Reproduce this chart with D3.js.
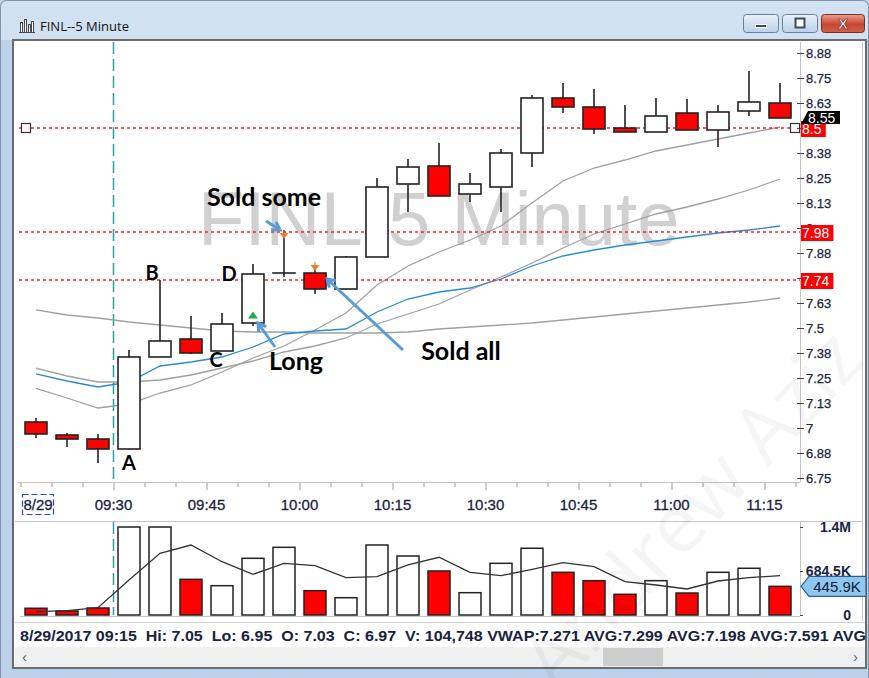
<!DOCTYPE html>
<html>
<head>
<meta charset="utf-8">
<script src="https://cdn.jsdelivr.net/npm/d3@7"></script>
<style>
  html, body { margin: 0; padding: 0; background: #ffffff; }
  svg { display: block; }
</style>
</head>
<body>
<svg id="chart" width="869" height="678"></svg>
<script>
// ---- FINL 5-minute bars, 8/29/2017 ----
const symbol = "FINL";
const interval = "5 Minute";
const sessionDate = "8/29/2017";
const dateLabel = "8/29";

const times = ["09:15","09:20","09:25","09:30","09:35","09:40","09:45","09:50","09:55","10:00",
               "10:05","10:10","10:15","10:20","10:25","10:30","10:35","10:40","10:45","10:50",
               "10:55","11:00","11:05","11:10","11:15"];

const open  = [7.03, 6.965, 6.945, 6.895, 7.355, 7.445, 7.385, 7.525, 7.775, 7.775,
               7.695, 7.855, 8.22, 8.31, 8.17, 8.205, 8.375, 8.65, 8.605, 8.50,
               8.48, 8.575, 8.49, 8.585, 8.625];
const high  = [7.05, 6.975, 6.97, 7.39, 7.74, 7.56, 7.575, 7.82, 7.99, 7.81,
               7.86, 8.25, 8.345, 8.425, 8.275, 8.395, 8.665, 8.725, 8.695, 8.615,
               8.65, 8.645, 8.615, 8.785, 8.725];
const low   = [6.95, 6.905, 6.825, 6.89, 7.355, 7.37, 7.385, 7.51, 7.755, 7.67,
               7.69, 7.855, 8.08, 8.16, 8.13, 8.08, 8.305, 8.575, 8.47, 8.48,
               8.48, 8.49, 8.405, 8.56, 8.55];
const close = [6.97, 6.945, 6.895, 7.355, 7.435, 7.375, 7.52, 7.77, 7.775, 7.695,
               7.855, 8.205, 8.305, 8.16, 8.22, 8.375, 8.65, 8.605, 8.495, 8.48,
               8.56, 8.49, 8.58, 8.63, 8.55];

const volume    = [104748, 62000, 109000, 1369000, 1369000, 555000, 456000, 882000, 1053000, 378000,
                   269000, 1089000, 918000, 685000, 347000, 804000, 1038000, 664000, 534000, 322000,
                   534000, 342000, 664000, 727000, 445900];
const volumeAvg = [51000, 67000, 114000, 545000, 960000, 1089000, 829000, 633000, 804000, 767000,
                   580000, 596000, 778000, 898000, 664000, 612000, 711000, 814000, 752000, 518000,
                   467000, 405000, 529000, 580000, 612000];

// indicator overlays
const vwap    = [7.271, 7.235, 7.205, 7.23, 7.31, 7.33, 7.355, 7.405, 7.47, 7.485,
                 7.495, 7.58, 7.645, 7.68, 7.70, 7.745, 7.81, 7.86, 7.89, 7.915,
                 7.935, 7.955, 7.975, 7.99, 8.01];
const avgFast = [7.198, 7.15, 7.10, 7.12, 7.175, 7.215, 7.28, 7.35, 7.41, 7.49,
                 7.575, 7.715, 7.81, 7.88, 7.94, 8.01, 8.125, 8.235, 8.30, 8.34,
                 8.385, 8.415, 8.445, 8.475, 8.505];
const avgMid  = [7.299, 7.26, 7.23, 7.23, 7.24, 7.265, 7.30, 7.335, 7.38, 7.41,
                 7.45, 7.52, 7.57, 7.62, 7.69, 7.755, 7.825, 7.90, 7.97, 8.02,
                 8.07, 8.105, 8.145, 8.19, 8.245];
const avgSlow = [7.591, 7.565, 7.55, 7.53, 7.515, 7.50, 7.485, 7.48, 7.48, 7.475,
                 7.475, 7.475, 7.48, 7.495, 7.505, 7.515, 7.525, 7.54, 7.555, 7.57,
                 7.585, 7.60, 7.615, 7.63, 7.65];

// axes
const priceTicks = [6.75, 6.875, 7, 7.125, 7.25, 7.375, 7.5, 7.625, 7.75, 7.875, 8, 8.125, 8.25, 8.375, 8.5, 8.625, 8.75, 8.875];
const priceTickLabels = ["6.75","6.88","7","7.13","7.25","7.38","7.5","7.63","7.75","7.88","8","8.13","8.25","8.38","8.5","8.63","8.75","8.88"];
const timeTicks = ["09:30","09:45","10:00","10:15","10:30","10:45","11:00","11:15"];
const volumeTicks = [0, 684500, 1369000];
const volumeTickLabels = ["0", "684.5K", "1.4M"];

// horizontal price levels and last values
const levels = [8.5, 7.98, 7.74];
const levelLabels = ["8.5", "7.98", "7.74"];
const lastPrice = 8.55;
const lastVolumeLabel = "445.9K";

// trades and notes
const trades = [
  { i: 7, price: 7.565, side: "buy" },
  { i: 8, price: 7.96, side: "sell" },
  { i: 9, price: 7.80, side: "sell" }
];
const barLetters = [
  { text: "A", i: 3, at: "low",  dx: 0,   dy: 20 },
  { text: "B", i: 4, at: "high", dx: -8,  dy: 0 },
  { text: "C", i: 6, at: "low",  dx: -6,  dy: 16 },
  { text: "D", i: 7, at: "high", dx: -24, dy: 17 }
];
const callouts = [
  { text: "Sold some", trade: 1, tail: [-18, -15], tip: [-4, -6], label: [-20, -30] },
  { text: "Long",      trade: 0, tail: [22, 32],   tip: [5, 8],   label: [43, 55] },
  { text: "Sold all",  trade: 2, tail: [88, 82],   tip: [12, 11], label: [146, 92] }
];

// ---- scales ----
const W = 869, H = 678;
const parse = d3.timeParse("%H:%M");
const T = times.map(parse);
const x = d3.scaleTime().domain([parse("09:15"), parse("11:20")]).range([20.5, 795.5]);
const halfBar = 2.5 * 60000;
const cx = i => x(new Date(+T[i] + halfBar));
const barW = x(parse("09:20")) - x(parse("09:15"));
const bodyW = Math.round(barW * 0.7);

const y = d3.scaleLinear().domain([6.75, 8.875]).range([478, 53]);
const yv = d3.scaleLinear().domain([0, 1369000]).range([615, 527]);

const plot = { left: 17, right: 800, top: 42, bottom: 482 };
const vol = { top: 521, bottom: 616 };

const svg = d3.select("#chart");
const defs = svg.append("defs");

const AXIS_FONT = "'Liberation Sans', Arial, sans-serif";
const NOTE_FONT = "Lato, 'Open Sans', sans-serif";
const textColor = "#1a2440";

// ---- window frame ----
const tg = defs.append("linearGradient").attr("id", "titleGrad").attr("x1", 0).attr("y1", 0).attr("x2", 0).attr("y2", 1);
tg.append("stop").attr("offset", "0%").attr("stop-color", "#d2e2f3");
tg.append("stop").attr("offset", "100%").attr("stop-color", "#b7cde6");

svg.append("rect").attr("width", W).attr("height", H).attr("fill", "#bcd2ea");
svg.append("path")
  .attr("d", `M0.5,${H} L0.5,7 Q0.5,0.5 7,0.5 L${W - 7},0.5 Q${W - 0.5},0.5 ${W - 0.5},7 L${W - 0.5},${H}`)
  .attr("fill", "url(#titleGrad)").attr("stroke", "#7f93ab");
svg.append("rect").attr("x", 1).attr("y", 40).attr("width", W - 2).attr("height", H - 40).attr("fill", "#bcd2ea");

// title icon
const icon = svg.append("g").attr("fill", "#ffffff").attr("stroke", "#4a4a4a").attr("stroke-width", 1);
[[20, 22, 10], [24, 19, 13], [28, 24, 8], [31, 21, 11]].forEach(([ix, iy, ih]) => {
  icon.append("rect").attr("x", ix + 0.5).attr("y", iy + 0.5).attr("width", 2).attr("height", ih);
});
svg.append("line").attr("x1", 19).attr("x2", 35).attr("y1", 32.5).attr("y2", 32.5).attr("stroke", "#4a4a4a");

svg.append("text").attr("x", 40).attr("y", 31)
  .attr("font-family", "'Open Sans', 'Noto Sans', sans-serif").attr("font-size", 13).attr("fill", "#111")
  .text(`${symbol}--${interval}`);

// caption buttons
const bg = defs.append("linearGradient").attr("id", "btnGrad").attr("x1", 0).attr("y1", 0).attr("x2", 0).attr("y2", 1);
bg.append("stop").attr("offset", "0%").attr("stop-color", "#eaf1fa");
bg.append("stop").attr("offset", "100%").attr("stop-color", "#bcd0e8");
const rg = defs.append("linearGradient").attr("id", "closeGrad").attr("x1", 0).attr("y1", 0).attr("x2", 0).attr("y2", 1);
rg.append("stop").attr("offset", "0%").attr("stop-color", "#e9a08f");
rg.append("stop").attr("offset", "55%").attr("stop-color", "#c8452f");
rg.append("stop").attr("offset", "100%").attr("stop-color", "#d2614a");

svg.append("rect").attr("x", 743.5).attr("y", 14.5).attr("width", 35).attr("height", 18).attr("rx", 3)
  .attr("fill", "url(#btnGrad)").attr("stroke", "#6c7f98");
svg.append("rect").attr("x", 755.5).attr("y", 24.5).attr("width", 11).attr("height", 3)
  .attr("fill", "#3a4a62").attr("stroke", "#ffffff").attr("stroke-width", 1);
svg.append("rect").attr("x", 782.5).attr("y", 14.5).attr("width", 35).attr("height", 18).attr("rx", 3)
  .attr("fill", "url(#btnGrad)").attr("stroke", "#6c7f98");
svg.append("rect").attr("x", 795.5).attr("y", 18.5).attr("width", 9).attr("height", 9)
  .attr("fill", "#ffffff").attr("stroke", "#3a4a62").attr("stroke-width", 2);
svg.append("rect").attr("x", 821.5).attr("y", 14.5).attr("width", 43).attr("height", 18).attr("rx", 3)
  .attr("fill", "url(#closeGrad)").attr("stroke", "#7a2d22");
svg.append("text").attr("x", 843).attr("y", 29).attr("text-anchor", "middle")
  .attr("font-family", AXIS_FONT).attr("font-weight", "bold").attr("font-size", 15)
  .attr("fill", "#ffffff").attr("stroke", "#6b2418").attr("stroke-width", 0.6).text("X");

// client area
svg.append("rect").attr("x", 13).attr("y", 40).attr("width", 853).attr("height", 628)
  .attr("fill", "#ffffff").attr("stroke", "#6b6b6b").attr("stroke-width", 2);

// ---- price panel ----
const gp = svg.append("g");

// symbol watermark
gp.append("text").attr("x", 198).attr("y", 245)
  .attr("font-family", AXIS_FONT).attr("font-size", 76).attr("fill", "#d0d0d0")
  .text(`${symbol}-5 Minute`);

// frame lines
gp.append("line").attr("x1", plot.left).attr("x2", plot.right).attr("y1", plot.bottom + 0.5).attr("y2", plot.bottom + 0.5).attr("stroke", "#c4c4c4");
gp.append("line").attr("x1", plot.right + 0.5).attr("x2", plot.right + 0.5).attr("y1", plot.top).attr("y2", plot.bottom).attr("stroke", "#c4c4c4");
gp.append("line").attr("x1", 862.5).attr("x2", 862.5).attr("y1", plot.top).attr("y2", vol.bottom + 5).attr("stroke", "#c8c8c8");

// session open marker
const openX = x(parse("09:30"));
[[plot.top, plot.bottom], [vol.top + 1, vol.bottom - 1]].forEach(([a, b]) => {
  gp.append("line").attr("x1", openX).attr("x2", openX).attr("y1", a).attr("y2", b)
    .attr("stroke", "#2f9f9f").attr("stroke-width", 1.5).attr("stroke-dasharray", "12,5");
});

// moving averages and vwap
const lineGen = d3.line().x((d, i) => cx(i)).y(d => y(d));
[[avgSlow, "#a0a0a0"], [avgMid, "#a0a0a0"], [avgFast, "#a0a0a0"], [vwap, "#2a8ad4"]].forEach(([s, c]) => {
  gp.append("path").attr("d", lineGen(s)).attr("fill", "none").attr("stroke", c).attr("stroke-width", 1.3);
});

// price levels
gp.selectAll(".level").data(levels).join("line")
  .attr("x1", plot.left + 2).attr("x2", plot.right)
  .attr("y1", d => y(d)).attr("y2", d => y(d))
  .attr("stroke", "#ff2020").attr("stroke-width", 1.3).attr("stroke-dasharray", "3,3");

// square handles on the first level
[21, 790].forEach(hx => {
  gp.append("rect").attr("x", hx + 0.5).attr("y", y(levels[0]) - 4.5).attr("width", 9).attr("height", 9)
    .attr("fill", "#ffffff").attr("stroke", "#333").attr("stroke-width", 1.2);
});

// candles
const idx = d3.range(times.length);
const candles = gp.append("g").selectAll("g").data(idx).join("g");
candles.append("line")
  .attr("x1", i => cx(i)).attr("x2", i => cx(i))
  .attr("y1", i => y(high[i])).attr("y2", i => y(low[i]))
  .attr("stroke", "#222").attr("stroke-width", 1.6);
candles.append("rect")
  .attr("x", i => cx(i) - bodyW / 2)
  .attr("y", i => y(Math.max(open[i], close[i])))
  .attr("width", bodyW)
  .attr("height", i => Math.max(0.01, Math.abs(y(open[i]) - y(close[i]))))
  .attr("fill", i => close[i] < open[i] ? "#ff0000" : "#ffffff")
  .attr("stroke", "#222").attr("stroke-width", 1.6);

// trade markers
trades.forEach(t => {
  const tx = cx(t.i), ty = y(t.price);
  if (t.side === "buy") {
    gp.append("path").attr("d", `M${tx - 5},${ty + 3.5} L${tx + 5},${ty + 3.5} L${tx},${ty - 3.5} Z`).attr("fill", "#1cae4e");
  } else {
    gp.append("line").attr("x1", tx).attr("x2", tx).attr("y1", ty - 6).attr("y2", ty - 2).attr("stroke", "#ee7d31").attr("stroke-width", 1.2);
    gp.append("path").attr("d", `M${tx - 4.5},${ty - 3} L${tx + 4.5},${ty - 3} L${tx},${ty + 3} Z`).attr("fill", "#ee7d31");
  }
});

// bar letters
barLetters.forEach(b => {
  const py = b.at === "high" ? y(high[b.i]) : y(low[b.i]);
  gp.append("text").attr("x", cx(b.i) + b.dx).attr("y", py + b.dy).attr("text-anchor", "middle")
    .attr("font-family", NOTE_FONT).attr("font-weight", "bold").attr("font-size", 20).attr("fill", "#000")
    .text(b.text);
});

// callouts
function arrow(g, x1, y1, x2, y2) {
  const a = Math.atan2(y2 - y1, x2 - x1), L = 9, s = 0.55;
  g.append("line").attr("x1", x1).attr("y1", y1).attr("x2", x2).attr("y2", y2)
    .attr("stroke", "#5b9bd5").attr("stroke-width", 3);
  g.append("path")
    .attr("d", `M${x2 - L * Math.cos(a - s)},${y2 - L * Math.sin(a - s)} L${x2},${y2} L${x2 - L * Math.cos(a + s)},${y2 - L * Math.sin(a + s)}`)
    .attr("fill", "none").attr("stroke", "#5b9bd5").attr("stroke-width", 3);
}
callouts.forEach(c => {
  const t = trades[c.trade];
  const bx = cx(t.i), by = y(t.price);
  arrow(gp, bx + c.tail[0], by + c.tail[1], bx + c.tip[0], by + c.tip[1]);
  gp.append("text").attr("x", bx + c.label[0]).attr("y", by + c.label[1]).attr("text-anchor", "middle")
    .attr("font-family", NOTE_FONT).attr("font-weight", "bold").attr("font-size", 25).attr("fill", "#000")
    .text(c.text);
});

// price axis
const ya = gp.append("g").attr("transform", `translate(${plot.right},0)`)
  .call(d3.axisRight(y).tickValues(priceTicks).tickFormat((d, i) => priceTickLabels[i]).tickSizeInner(4).tickSizeOuter(0).tickPadding(2));
ya.select(".domain").remove();
ya.selectAll(".tick line").attr("stroke", "#444").attr("x1", -3).attr("x2", 4);
ya.selectAll(".tick text").attr("font-family", AXIS_FONT).attr("font-size", 13).attr("fill", textColor)
  .attr("stroke", textColor).attr("stroke-width", 0.25);

// level tags
levels.forEach((lv, k) => {
  const tw = levelLabels[k].length * 7.6 + 2;
  gp.append("rect").attr("x", 801).attr("y", y(lv) - 7).attr("width", tw).attr("height", 16).attr("fill", "#ff0000");
  gp.append("text").attr("x", 802).attr("y", y(lv) + 6).attr("font-family", AXIS_FONT).attr("font-size", 14)
    .attr("fill", "#ffffff").text(levelLabels[k]);
});

// last price tag
const ly = y(lastPrice);
gp.append("path").attr("d", `M801,${ly + 6} L808,${ly - 7} L840,${ly - 7} L840,${ly + 6} Z`).attr("fill", "#000");
gp.append("text").attr("x", 808).attr("y", ly + 5).attr("font-family", AXIS_FONT).attr("font-size", 14)
  .attr("fill", "#ffffff").text(d3.format(".2f")(lastPrice));

// ---- time axis ----
const boundaries = times.concat(["11:20"]).map(parse);
const gx = svg.append("g");
gx.selectAll("line").data(boundaries).join("line")
  .attr("x1", d => x(d) + 0.5).attr("x2", d => x(d) + 0.5)
  .attr("y1", plot.bottom + 1).attr("y2", d => timeTicks.includes(d3.timeFormat("%H:%M")(d)) ? plot.bottom + 8 : plot.bottom + 5)
  .attr("stroke", "#9a9a9a");
gx.selectAll("text").data(timeTicks).join("text")
  .attr("x", d => x(parse(d))).attr("y", 510).attr("text-anchor", "middle")
  .attr("font-family", AXIS_FONT).attr("font-size", 15).attr("fill", textColor)
  .attr("stroke", textColor).attr("stroke-width", 0.3).text(d => d);
gx.append("text").attr("x", 38).attr("y", 510).attr("text-anchor", "middle")
  .attr("font-family", AXIS_FONT).attr("font-size", 15).attr("fill", textColor)
  .attr("stroke", textColor).attr("stroke-width", 0.3).text(dateLabel);
gx.append("rect").attr("x", 22.5).attr("y", 494.5).attr("width", 31).attr("height", 20)
  .attr("fill", "none").attr("stroke", "#2244dd").attr("stroke-width", 1.2).attr("stroke-dasharray", "6,3");

// ---- volume panel ----
const gv = svg.append("g");
gv.append("line").attr("x1", 15).attr("x2", 863).attr("y1", vol.top + 0.5).attr("y2", vol.top + 0.5).attr("stroke", "#c4c4c4");
gv.append("line").attr("x1", 20).attr("x2", plot.right).attr("y1", vol.bottom + 0.5).attr("y2", vol.bottom + 0.5).attr("stroke", "#c4c4c4");
gv.append("line").attr("x1", plot.right + 0.5).attr("x2", plot.right + 0.5).attr("y1", vol.top).attr("y2", vol.bottom).attr("stroke", "#c4c4c4");

gv.append("g").selectAll("rect").data(idx).join("rect")
  .attr("x", i => cx(i) - bodyW / 2)
  .attr("y", i => yv(volume[i]))
  .attr("width", bodyW)
  .attr("height", i => yv(0) - yv(volume[i]))
  .attr("fill", i => close[i] < open[i] ? "#ff0000" : "#ffffff")
  .attr("stroke", "#222").attr("stroke-width", 1.5);
gv.append("path")
  .attr("d", d3.line().x((d, i) => cx(i)).y(d => yv(d))(volumeAvg))
  .attr("fill", "none").attr("stroke", "#333").attr("stroke-width", 1.3);

const va = gv.append("g").attr("transform", `translate(${plot.right},0)`)
  .call(d3.axisRight(yv).tickValues(volumeTicks).tickFormat((d, i) => volumeTickLabels[i]).tickSizeInner(3).tickSizeOuter(0));
va.select(".domain").remove();
va.selectAll(".tick line").attr("stroke", "#444");
va.selectAll(".tick text").attr("x", 51).attr("text-anchor", "end")
  .attr("font-family", AXIS_FONT).attr("font-weight", "bold").attr("font-size", 14).attr("fill", textColor);

// last volume tag
const lvy = yv(volume[volume.length - 1]);
gv.append("path").attr("d", `M801,${lvy} L809,${lvy - 10} L866,${lvy - 10} L866,${lvy + 10} L809,${lvy + 10} Z`)
  .attr("fill", "#8ec8f2").attr("stroke", "#2c5d8c").attr("stroke-width", 1.2);
gv.append("text").attr("x", 837).attr("y", lvy + 6).attr("text-anchor", "middle")
  .attr("font-family", AXIS_FONT).attr("font-size", 15).attr("fill", "#0d1b33").text(lastVolumeLabel);

// ---- status line ----
svg.append("line").attr("x1", 15).attr("x2", 865).attr("y1", 622.5).attr("y2", 622.5).attr("stroke", "#d0d0d0");
const status = `${sessionDate} ${times[0]}  Hi: ${d3.format(".2f")(high[0])}  Lo: ${d3.format(".2f")(low[0])}  ` +
  `O: ${d3.format(".2f")(open[0])}  C: ${d3.format(".2f")(close[0])}  V: ${d3.format(",")(volume[0])} ` +
  `VWAP:${vwap[0]} AVG:${avgMid[0]} AVG:${avgFast[0]} AVG:${avgSlow[0]} AVG`;
svg.append("text").attr("x", 20).attr("y", 641).style("white-space", "pre")
  .attr("font-family", AXIS_FONT).attr("font-weight", "bold").attr("font-size", 14).attr("fill", textColor)
  .attr("textLength", 846).attr("lengthAdjust", "spacingAndGlyphs").text(status);

// ---- scroll bar ----
svg.append("rect").attr("x", 15).attr("y", 647).attr("width", 850).attr("height", 20).attr("fill", "#f0f0f0");
svg.append("rect").attr("x", 603).attr("y", 648).attr("width", 60).attr("height", 18).attr("fill", "#cdcdcd");
svg.append("text").attr("x", 22).attr("y", 662).attr("font-family", AXIS_FONT).attr("font-size", 15).attr("fill", "#606060").text("‹");
svg.append("text").attr("x", 853).attr("y", 662).attr("font-family", AXIS_FONT).attr("font-size", 15).attr("fill", "#606060").text("›");

// author watermark
svg.append("text").attr("transform", "translate(712,528) rotate(-47)").attr("text-anchor", "middle")
  .attr("font-family", "'Open Sans', sans-serif").attr("font-size", 80).attr("fill", "#000").attr("fill-opacity", 0.04)
  .text("Andrew Aziz");
</script>
</body>
</html>
